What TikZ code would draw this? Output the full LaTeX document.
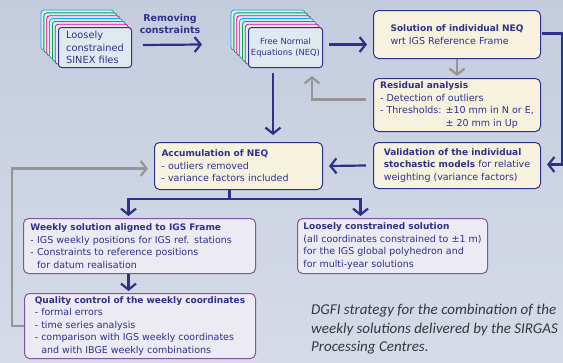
\documentclass[tikz,border=0pt]{standalone}
\usepackage{fontspec}
\setmainfont{DejaVu Sans}
\newfontfamily\captionfont{Carlito}
\usepackage{tikz}
\usetikzlibrary{arrows.meta,calc}
\definecolor{navy}{RGB}{46,49,140}
\definecolor{cream}{RGB}{247,242,222}
\definecolor{lilac}{RGB}{236,234,243}
\definecolor{lilacline}{RGB}{125,88,160}
\definecolor{cardfill}{RGB}{224,232,240}
\definecolor{cardcyan}{RGB}{0,174,239}
\definecolor{cardgreen}{RGB}{0,166,81}
\definecolor{cardpink}{RGB}{236,0,140}
\definecolor{greyline}{RGB}{150,150,150}
\definecolor{captiongrey}{RGB}{55,55,60}
\definecolor{bgtop}{RGB}{196,204,222}
\definecolor{bgbottom}{RGB}{213,219,231}
\newcommand{\hd}[1]{{\fontsize{9}{12.5}\selectfont\bfseries #1}}
\tikzstyle{arrow} = [navy,line width=2.2pt,-{Straight Barb[length=6pt,width=15pt]}]
\tikzstyle{greyarrow} = [greyline,line width=2.2pt,-{Straight Barb[length=6pt,width=15pt]}]
\tikzstyle{navyline} = [navy,line width=2.2pt]
\tikzstyle{box} = [draw=navy,fill=cream,rounded corners=5pt,line width=1pt,anchor=north west,align=left,text=navy,inner xsep=0pt,inner ysep=2pt,font=\fontsize{9.5}{12.5}\selectfont]
\tikzstyle{pbox} = [box,draw=lilacline,fill=lilac]
\tikzstyle{card} = [draw=navy,fill=cardfill,rounded corners=3pt,line width=1pt,anchor=north west,text=navy,minimum width=73pt,minimum height=40pt,inner sep=0pt]

\begin{document}
\begin{tikzpicture}[x=1pt,y=-1pt]
          \useasboundingbox (0,0) rectangle (563,362);
          \shade[top color=bgtop,bottom color=bgbottom] (0,0) rectangle (563,362);

          \foreach \c [count=\i from 0] in {cardcyan,cardgreen,cardpink,cardcyan,cardgreen,cardpink} {
            \draw[\c,fill=cardfill,rounded corners=3pt,line width=0.8pt] (41+2.85*\i,10+2.85*\i) rectangle ++(73,40);
            \draw[\c,fill=cardfill,rounded corners=3pt,line width=0.8pt] (231+2.85*\i,10+2.85*\i) rectangle ++(74,40);
          }
          \node[card] [align=left,font=\fontsize{9.8}{12.5}\selectfont] (sinex) at (58,27) {Loosely\\constrained\\SINEX files};
          \node[card] [align=center,minimum width=74pt,font=\fontsize{8.4}{11}\selectfont] (neq) at (248,27) {Free Normal\\Equations (NEQ)};
          \node[navy,align=center,font=\fontsize{9.5}{12.5}\selectfont\bfseries] (remove) at (170,24) {Removing\\constraints};

          \node[box] [minimum width=167pt,minimum height=48pt] (sol) at (373,10) {\hd{Solution of individual NEQ}\\wrt IGS Reference Frame};
          \node[box] [minimum width=167pt,minimum height=53pt] (res) at (373,78) {\hd{Residual analysis}\\- Detection of outliers\\- Thresholds: ±10 mm in N or E,\\\phantom{- Thresholds: }± 20 mm in Up};
          \node[box] [minimum width=167pt,minimum height=46pt] (val) at (373,142) {\hd{Validation of the individual}\\\hd{stochastic models} for relative\\weighting (variance factors)};
          \node[box] [minimum width=168pt,minimum height=47pt,text width=154pt] (acc) at (154,142) {\hd{Accumulation of NEQ}\\- outliers removed\\- variance factors included};
          \node[pbox] [minimum width=232pt,minimum height=55pt,text width=218pt] (wk) at (23,218) {\hd{Weekly solution aligned to IGS Frame}\\- IGS weekly positions for IGS ref. stations\\- Constraints to reference positions\\\phantom{- }for datum realisation};
          \node[pbox] [minimum width=231pt,minimum height=65pt] (qc) at (24,293) {\hd{Quality control of the weekly coordinates}\\- formal errors\\- time series analysis\\- comparison with IGS weekly coordinates\\\phantom{- }and with IBGE weekly combinations};
          \node[pbox] [minimum width=190pt,minimum height=55pt] (loose) at (297,218) {\hd{Loosely constrained solution}\\(all coordinates constrained to ±1 m)\\for the IGS global polyhedron and\\for multi-year solutions};
          \node[anchor=north west,inner sep=0pt,align=left,text=captiongrey,font=\captionfont\itshape\fontsize{15}{18.5}\selectfont] (caption) at (311,304) {DGFI strategy for the combination of the\\weekly solutions delivered by the SIRGAS\\Processing Centres.};

          \coordinate (split) at ($(acc.south)+(-9,9)$);

          \draw[arrow] ($(sinex.east)+(11,-2.5)$) -- ($(neq.west)+(-46,-3)$);
          \draw[arrow] ($(neq.east)+(6,-3)$) -- ($(sol.west)+(-6,10)$);
          \draw[arrow] ($(neq.south west)+(25,5)$) -- ($(acc.north west)+(119,-7)$);
          \draw[greyarrow] (sol.south) -- ($(res.north)+(0,-2)$);
          \draw[greyarrow] ($(res.west)+(-7,-5.5)$) -| ($(neq.south west)+(64,8)$);
          \draw[arrow] ($(sol.east)+(1,-1)$) -- ++(20,0) |- ($(val.east)+(6,-1)$);
          \draw[arrow] ($(val.west)+(-7,0)$) -- ($(acc.east)+(6,0)$);
          \draw[navyline] ($(acc.south)+(-9,0)$) -- (split);
          \draw[arrow] (split) -| ($(wk.north)+(-11,-2)$);
          \draw[arrow] (split) -| ($(loose.north)+(-32,-2)$);
          \draw[arrow] ($(wk.south)+(-11,0)$) -- ($(qc.north)+(-11.5,-2)$);
          \draw[greyarrow] (qc.west) -- ++(-12,0) |- ($(acc.west)+(-6,2.5)$);
        \end{tikzpicture}
\end{document}
